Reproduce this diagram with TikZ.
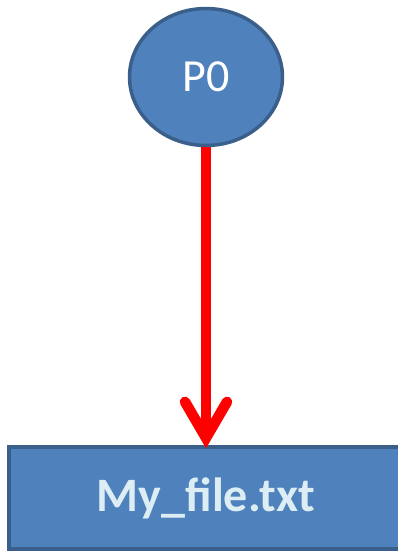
\documentclass[tikz,border=0pt]{standalone}
\usepackage{fontspec}
\setmainfont{Carlito}
\usetikzlibrary{arrows.meta,shapes.geometric}
\definecolor{boxfill}{HTML}{4F81BD}
\definecolor{boxline}{HTML}{3A5F8B}
\definecolor{filetext}{HTML}{DCEEF4}
\definecolor{arrowred}{HTML}{FF0000}
\tikzset{
  procnode/.style={ellipse, draw=boxline, fill=boxfill, line width=3.5pt,
    minimum width=153pt, minimum height=137pt, inner sep=0pt,
    text=white, font=\fontsize{46}{46}\selectfont},
  filenode/.style={rectangle, draw=boxline, fill=boxfill, line width=3.5pt,
    minimum width=394pt, minimum height=102pt, inner sep=0pt,
    text=filetext, font=\fontsize{48}{48}\selectfont\bfseries},
  redarrow/.style={draw=arrowred, line width=10.5pt,
    -{Straight Barb[length=36pt, width=42pt, line cap=round, line join=miter]}},
}
\begin{document}
\begin{tikzpicture}[x=1pt,y=-1pt]
\useasboundingbox (0,0) rectangle (398,552);
\clip (0,0) rectangle (398,552);
\node[procnode] (p0) at (206,77) {P0};
\node[filenode] (file) at (206,498) {My\_file.txt};
\draw[redarrow, shorten >=-3pt] (p0.south) -- (file.north);
\end{tikzpicture}
\end{document}
